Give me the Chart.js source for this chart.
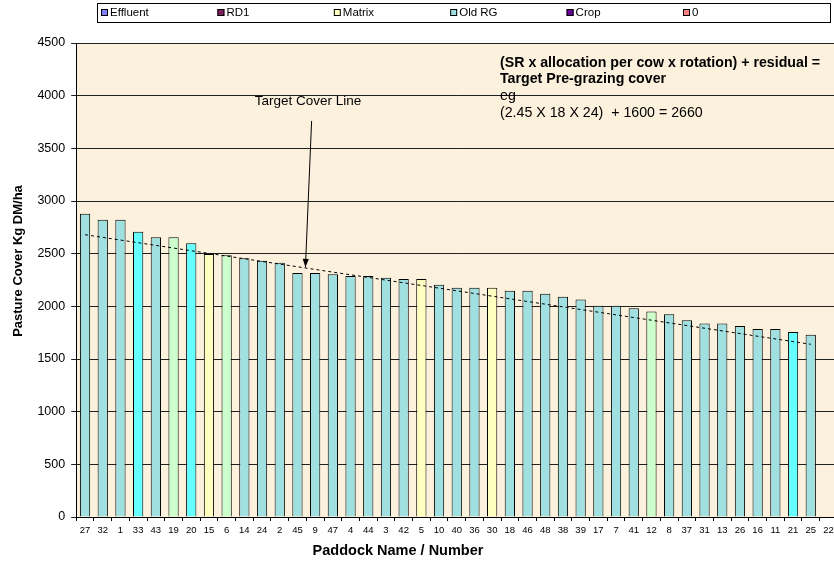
<!DOCTYPE html>
<html>
<head>
<meta charset="utf-8">
<script src="https://cdn.jsdelivr.net/npm/chart.js@4.4.1/dist/chart.umd.min.js"></script>
<style>
  html, body { margin: 0; padding: 0; background: #fff; overflow: hidden; }
  #wrap { width: 845px; height: 563px; }
</style>
</head>
<body>
<div id="wrap"><canvas id="grafico-cobertura" width="845" height="563"></canvas></div>
<script>
// Datos del gráfico
const paddocks = ['27','32','1','33','43','19','20','15','6','14','24','2','45','9','47','4','44','3','42','5','10',
  '40','36','30','18','46','48','38','39','17','7','41','12','8','37','31','13','26','16','11','21','25','22'];
const cover = [2880, 2823, 2823, 2709, 2655, 2655, 2598, 2497, 2484, 2456, 2433, 2414, 2316, 2316, 2304, 2288, 2288,
  2272, 2259, 2259, 2206, 2177, 2177, 2177, 2149, 2149, 2120, 2092, 2064, 2006, 2006, 1981, 1952, 1924, 1867, 1838,
  1838, 1813, 1785, 1785, 1756, 1731, null];
// tipo de pastura por potrero
const paddockType = ['old','old','old','cyan','old','green','cyan','matrix','green','old','old','old','old','old','old',
  'old','old','old','old','matrix','old','old','old','matrix','old','old','old','old','old','old','old','old','green',
  'old','old','old','old','old','old','old','cyan','old','old'];
// línea de cobertura objetivo: sólo los extremos
const targetCover = [2680, null, null, null, null, null, null, null, null, null, null, null, null, null, null, null, null,
  null, null, null, null, null, null, null, null, null, null, null, null, null, null, null, null, null, null, null,
  null, null, null, null, null, 1640, null];
const legendNames = ['Effluent', 'RD1', 'Matrix', 'Old RG', 'Crop', '0'];
const yMin = 0, yMax = 4500, yStep = 500;

const typeColors = { old: '#A0E0E0', cyan: '#66FFFF', green: '#CCFFCC', matrix: '#FFFFC0' };
const legendColors = ['#8080FF', '#802060', '#FFFFC0', '#A0E0E0', '#660099', '#FF8080'];
const FONT = '"Liberation Sans", Arial, sans-serif';

Chart.defaults.font.family = FONT;
Chart.defaults.color = '#000';

// fondo del área de trazado
const fondo = {
  id: 'fondo',
  beforeDraw(chart) {
    const { ctx, chartArea: a } = chart;
    ctx.save();
    ctx.fillStyle = '#FCF1DD';
    ctx.fillRect(a.left, a.top, a.right - a.left, a.bottom - a.top);
    ctx.restore();
  }
};

// leyenda, títulos y anotaciones
const extras = {
  id: 'extras',
  afterDraw(chart) {
    const { ctx, scales: { x, y } } = chart;
    ctx.save();

    // leyenda
    ctx.fillStyle = '#fff';
    ctx.fillRect(97, 3, 733, 19);
    ctx.strokeStyle = '#000';
    ctx.lineWidth = 1;
    ctx.strokeRect(97.5, 3.5, 733, 19);
    ctx.font = '11.5px ' + FONT;
    ctx.textBaseline = 'middle';
    legendNames.forEach((name, i) => {
      const bx = 101 + i * 116.4;
      ctx.fillStyle = legendColors[i];
      ctx.fillRect(bx, 9, 7, 7);
      ctx.strokeRect(bx + 0.5, 9.5, 6, 6);
      ctx.fillStyle = '#000';
      ctx.fillText(name, bx + 9, 13);
    });

    // título eje x
    ctx.font = 'bold 14.5px ' + FONT;
    ctx.textAlign = 'center';
    ctx.fillText('Paddock Name / Number', 398, 551);

    // título eje y
    ctx.save();
    ctx.translate(18, 261);
    ctx.rotate(-Math.PI / 2);
    ctx.font = 'bold 13px ' + FONT;
    ctx.fillText('Pasture Cover Kg DM/ha', 0, 0);
    ctx.restore();

    // fórmula
    ctx.textAlign = 'left';
    ctx.font = 'bold 14.2px ' + FONT;
    ctx.fillText('(SR x allocation per cow x rotation) + residual =', 500, 63);
    ctx.fillText('Target Pre-grazing cover', 500, 79);
    ctx.font = '14.2px ' + FONT;
    ctx.fillText('eg', 500, 96);
    ctx.fillText('(2.45 X 18 X 24)  + 1600 = 2660', 500, 113);

    // flecha "Target Cover Line"
    ctx.font = '13.5px ' + FONT;
    ctx.textAlign = 'center';
    ctx.fillText('Target Cover Line', x.getPixelForValue(12.6), 101);
    const x0 = x.getPixelForValue(12.8), y0 = y.getPixelForValue(3760);
    const x1 = x.getPixelForValue(12.45), y1 = y.getPixelForValue(2370);
    ctx.beginPath();
    ctx.moveTo(x0, y0);
    ctx.lineTo(x1, y1);
    ctx.stroke();
    const ang = Math.atan2(y1 - y0, x1 - x0);
    ctx.beginPath();
    ctx.moveTo(x1, y1);
    ctx.lineTo(x1 - 9 * Math.cos(ang - 0.35), y1 - 9 * Math.sin(ang - 0.35));
    ctx.lineTo(x1 - 9 * Math.cos(ang + 0.35), y1 - 9 * Math.sin(ang + 0.35));
    ctx.closePath();
    ctx.fillStyle = '#000';
    ctx.fill();

    ctx.restore();
  }
};

const ctx = document.getElementById('grafico-cobertura').getContext('2d');
new Chart(ctx, {
  data: {
    labels: paddocks,
    datasets: [
      {
        type: 'line',
        label: 'Target',
        data: targetCover,
        borderColor: '#000',
        borderWidth: 1,
        borderDash: [3, 3],
        pointRadius: 0,
        spanGaps: true,
        order: 0
      },
      {
        type: 'bar',
        label: 'Cover',
        data: cover,
        backgroundColor: paddockType.map(t => typeColors[t]),
        borderColor: '#000',
        borderWidth: 1,
        barPercentage: 0.58,
        categoryPercentage: 1,
        order: 1
      }
    ]
  },
  options: {
    responsive: false,
    animation: false,
    layout: { padding: { left: 0, right: 7.7, top: 43, bottom: 0 } },
    plugins: {
      legend: { display: false },
      tooltip: { enabled: false }
    },
    scales: {
      x: {
        offset: true,
        grid: { display: true, drawOnChartArea: false, offset: true, color: '#000', tickLength: 4 },
        border: { color: '#000' },
        ticks: { font: { size: 9.5 }, color: '#000', maxRotation: 0, autoSkip: false, padding: 4 },
        afterFit(scale) { scale.height = 46; }
      },
      y: {
        min: yMin,
        max: yMax,
        grid: { color: '#202020', tickLength: 5 },
        border: { color: '#000' },
        ticks: { stepSize: yStep, font: { size: 12.5 }, color: '#000', padding: 6, callback: v => String(v) },
        afterFit(scale) { scale.width = 76.2; }
      }
    }
  },
  plugins: [fondo, extras]
});
</script>
</body>
</html>
